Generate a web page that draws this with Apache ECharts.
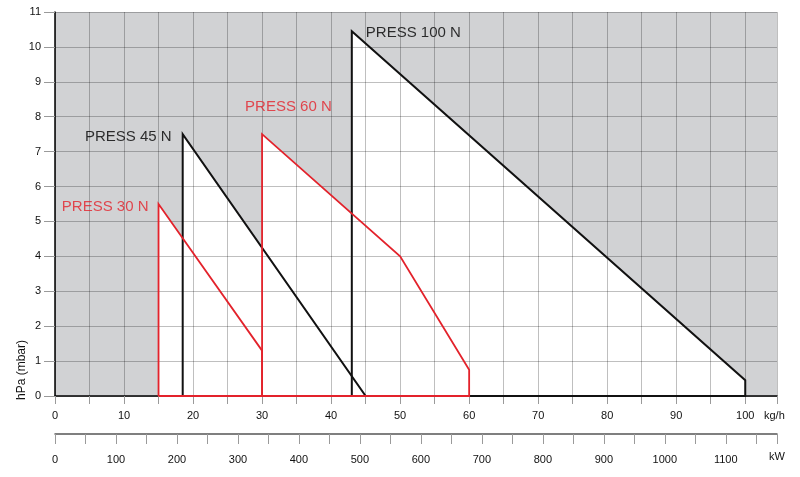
<!DOCTYPE html>
<html>
<head>
<meta charset="utf-8">
<script src="https://cdn.jsdelivr.net/npm/echarts@6/dist/echarts.min.js"></script>
<style>
html,body{margin:0;padding:0;background:#fff;}
#chart{width:800px;height:477px;}
</style>
</head>
<body>
<div id="chart"></div>
<script>
// ---- data ----
var press30 = [[15, 0], [15, 5.5], [30, 1.3], [30, 0]];
var press45 = [[18.5, 0], [18.5, 7.5], [45, 0]];
var press60 = [[30, 0], [30, 7.5], [50, 4], [60, 0.75], [60, 0]];
var press100 = [[43, 0], [43, 10.45], [100, 0.45], [100, 0]];
var seriesNames = ['PRESS 30 N', 'PRESS 45 N', 'PRESS 60 N', 'PRESS 100 N'];
var flowRange = [0, 104.6];      // kg/h
var powerRange = [0, 1184];      // kW
var pressRange = [0, 11];        // hPa (mbar)
var flowUnit = 'kg/h';
var powerUnit = 'kW';
var pressUnit = 'hPa (mbar)';

var FONT = '"Liberation Sans", Arial, Helvetica, sans-serif';
var RED = '#e3222b';
var BLACK = '#111111';
var GRID = 'rgba(0,0,0,0.25)';

function closed(d) { return d.concat([d[0]]); }
function peak(d) {
  var p = d[0];
  d.forEach(function (q) { if (q[1] > p[1]) p = q; });
  return p;
}

var sets = [
  { name: seriesNames[1], data: press45, color: BLACK, width: 2, label: { position: 'left', distance: 11, offset: [0, 3], color: '#000' } },
  { name: seriesNames[3], data: press100, color: BLACK, width: 2, label: { position: 'right', distance: 14, offset: [0, 2], color: '#000' } },
  { name: seriesNames[0], data: press30, color: RED, width: 1.8, label: { position: 'left', distance: 10, offset: [0, 3], color: RED } },
  { name: seriesNames[2], data: press60, color: RED, width: 1.8, label: { position: 'right', distance: 0, offset: [-17, -27], color: RED } }
];

var series = [];
sets.forEach(function (s) {
  series.push({
    type: 'line', name: s.name + ' area', data: s.data, z: 1,
    symbol: 'none', silent: true,
    lineStyle: { width: 0, opacity: 0 },
    areaStyle: { color: '#ffffff', opacity: 1 }
  });
});
sets.forEach(function (s) {
  series.push({
    type: 'line', name: s.name, data: closed(s.data), z: 4,
    symbol: 'none', silent: true,
    lineStyle: { color: s.color, width: s.width, join: 'miter' }
  });
});
sets.forEach(function (s) {
  series.push({
    type: 'scatter', name: s.name + ' label', data: [peak(s.data)], z: 5,
    symbolSize: 0, silent: true,
    label: {
      show: true, formatter: s.name, position: s.label.position,
      distance: s.label.distance, offset: s.label.offset,
      color: s.label.color, fontSize: 15, fontFamily: FONT
    }
  });
});

var chart = echarts.init(document.getElementById('chart'), null, { renderer: 'canvas' });
chart.setOption({
  animation: false,
  backgroundColor: '#ffffff',
  grid: {
    left: 55, right: 23, top: 12, bottom: 81,
    show: true, backgroundColor: '#d1d2d4', borderWidth: 0
  },
  xAxis: [
    {
      type: 'value', min: flowRange[0], max: flowRange[1], interval: 5, z: 3,
      axisLine: { show: true, onZero: false, lineStyle: { color: '#000', width: 1.5 } },
      axisTick: { show: true, length: 8, lineStyle: { color: '#9a9a9a', width: 1 } },
      axisLabel: {
        margin: 14, color: '#111', fontSize: 11, fontFamily: FONT,
        formatter: function (v) { return (Math.abs(v % 10) < 1e-9) ? String(v) : ''; }
      },
      splitLine: { show: true, lineStyle: { color: GRID, width: 1 } }
    },
    {
      type: 'value', min: powerRange[0], max: powerRange[1], interval: 50, position: 'bottom', offset: 38, z: 3,
      axisLine: { show: true, onZero: false, lineStyle: { color: '#555', width: 1.5 } },
      axisTick: { show: true, length: 10, lineStyle: { color: '#9a9a9a', width: 1 } },
      axisLabel: {
        margin: 20, color: '#111', fontSize: 11, fontFamily: FONT,
        formatter: function (v) { return (Math.abs(v % 100) < 1e-9) ? String(v) : ''; }
      },
      splitLine: { show: false }
    }
  ],
  yAxis: {
    type: 'value', min: pressRange[0], max: pressRange[1], interval: 1, z: 3,
    axisLine: { show: true, onZero: false, lineStyle: { color: '#000', width: 1.5 } },
    axisTick: { show: true, length: 11, lineStyle: { color: '#9a9a9a', width: 1 } },
    axisLabel: { margin: 14, color: '#111', fontSize: 11, fontFamily: FONT },
    splitLine: { show: true, lineStyle: { color: GRID, width: 1 } }
  },
  series: series
});

// axis unit texts, placed relative to the axes' own pixel positions
var xEnd = chart.convertToPixel({ xAxisIndex: 0 }, flowRange[1]);
var y0 = chart.convertToPixel({ yAxisIndex: 0 }, pressRange[0]);
chart.setOption({
  graphic: [
    {
      type: 'text', x: xEnd - 13, y: y0 + 20, z: 10,
      style: { text: flowUnit, fill: '#111', font: '11px ' + FONT, textAlign: 'left', textVerticalAlign: 'middle' }
    },
    {
      type: 'text', x: xEnd - 8, y: y0 + 61, z: 10,
      style: { text: powerUnit, fill: '#111', font: '11px ' + FONT, textAlign: 'left', textVerticalAlign: 'middle' }
    },
    {
      type: 'text', x: 22, y: 370, rotation: Math.PI / 2, z: 10,
      style: { text: pressUnit, fill: '#111', font: '12px ' + FONT, textAlign: 'center', textVerticalAlign: 'middle' }
    }
  ]
});
</script>
</body>
</html>
